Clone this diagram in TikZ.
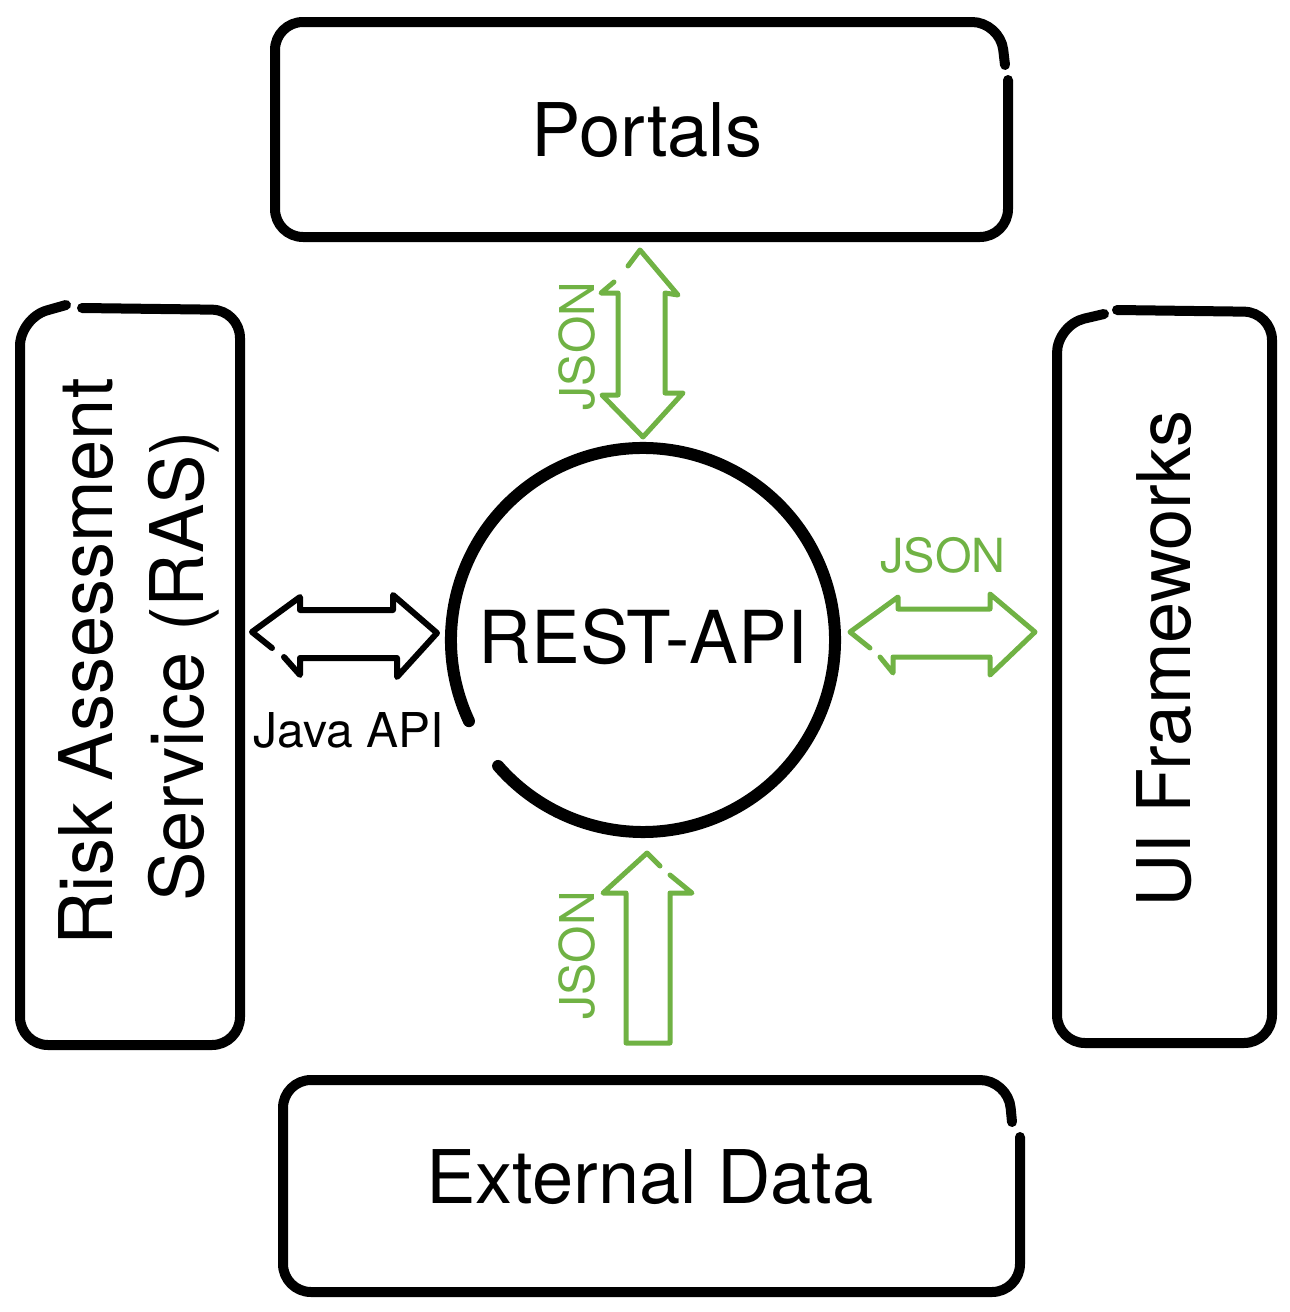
\documentclass[tikz,border=0pt]{standalone}
\usepackage{fontspec}
\setmainfont{TeX Gyre Heros}
\definecolor{jgreen}{RGB}{112,178,68}
\begin{document}
\begin{tikzpicture}[x=1pt,y=-1pt,
  boxline/.style={line width=10pt,rounded corners=28pt,line cap=round,line join=round},
  blockarrow/.style={line width=5pt,line cap=round,line join=round},
  big/.style={font=\fontsize{74}{88}\selectfont,inner sep=0pt},
  small/.style={font=\fontsize{48}{56}\selectfont,inner sep=0pt}]
\useasboundingbox (0,0) rectangle (1290,1312);
% boxes
\draw[boxline] (1008,80) -- (1008,237) -- (275,237) -- (275,22) -- (1000,22) -- (1005,65);
\draw[boxline] (82,308) -- (240,310) -- (240,1045) -- (20,1045) -- (20,318) -- (66,305);
\draw[boxline] (1117,310) -- (1272,312) -- (1272,1043) -- (1057,1043) -- (1057,325) -- (1104,314);
\draw[boxline] (1020,1137) -- (1020,1292) -- (283,1292) -- (283,1080) -- (1008,1080) -- (1012,1122);
% box labels
\node[big] (portals) at (647,130) {Portals};
\node[big] (ext) at (650,1177) {External Data};
\node[big,rotate=90,anchor=base] (ras1) at (112,662) {Risk Assessment};
\node[big,rotate=90,anchor=base] (ras2) at (203,666) {Service (RAS)};
\node[big,rotate=90,anchor=base] (ui) at (1190,659) {UI Frameworks};
% central circle (y axis points down, so angles are mirrored)
\coordinate (c) at (643,640);
\draw[line width=12pt,line cap=round] (c) ++(155:192) arc[start angle=155,end angle=499,radius=192];
\node[big,font=\fontsize{73}{88}\selectfont] (rest) at (643,637) {REST-API};
% left black double arrow
\draw[blockarrow,line width=6pt] (272,648) -- (252,632) -- (300,597) -- (300,610) -- (393,610) -- (393,595) -- (437,633) -- (397,677) -- (397,658) -- (300,658) -- (300,675) -- (284,657);
\node[small] (java) at (349,730) {Java API};
% right green double arrow
\draw[blockarrow,jgreen] (870,648) -- (850,632) -- (898,597) -- (898,609) -- (990,609) -- (990,594) -- (1035,632) -- (990,675) -- (990,657) -- (893,657) -- (893,673) -- (880,657);
\node[small,jgreen,font=\fontsize{47}{56}\selectfont] (jsonr) at (943,555) {JSON};
% top green double arrow
\draw[blockarrow,jgreen] (628,266) -- (640,250) -- (678,295) -- (665,293) -- (665,393) -- (683,393) -- (643,437) -- (602,395) -- (618,395) -- (618,293) -- (601,293) -- (614,282);
\node[small,jgreen,rotate=90] (jsont) at (577,346) {JSON};
% bottom green up arrow
\draw[blockarrow,jgreen] (670,875) -- (692,893) -- (670,893) -- (670,1043) -- (626,1043) -- (626,893) -- (603,893) -- (647,853) -- (660,866);
\node[small,jgreen,rotate=90] (jsonb) at (577,955) {JSON};
\end{tikzpicture}
\end{document}
